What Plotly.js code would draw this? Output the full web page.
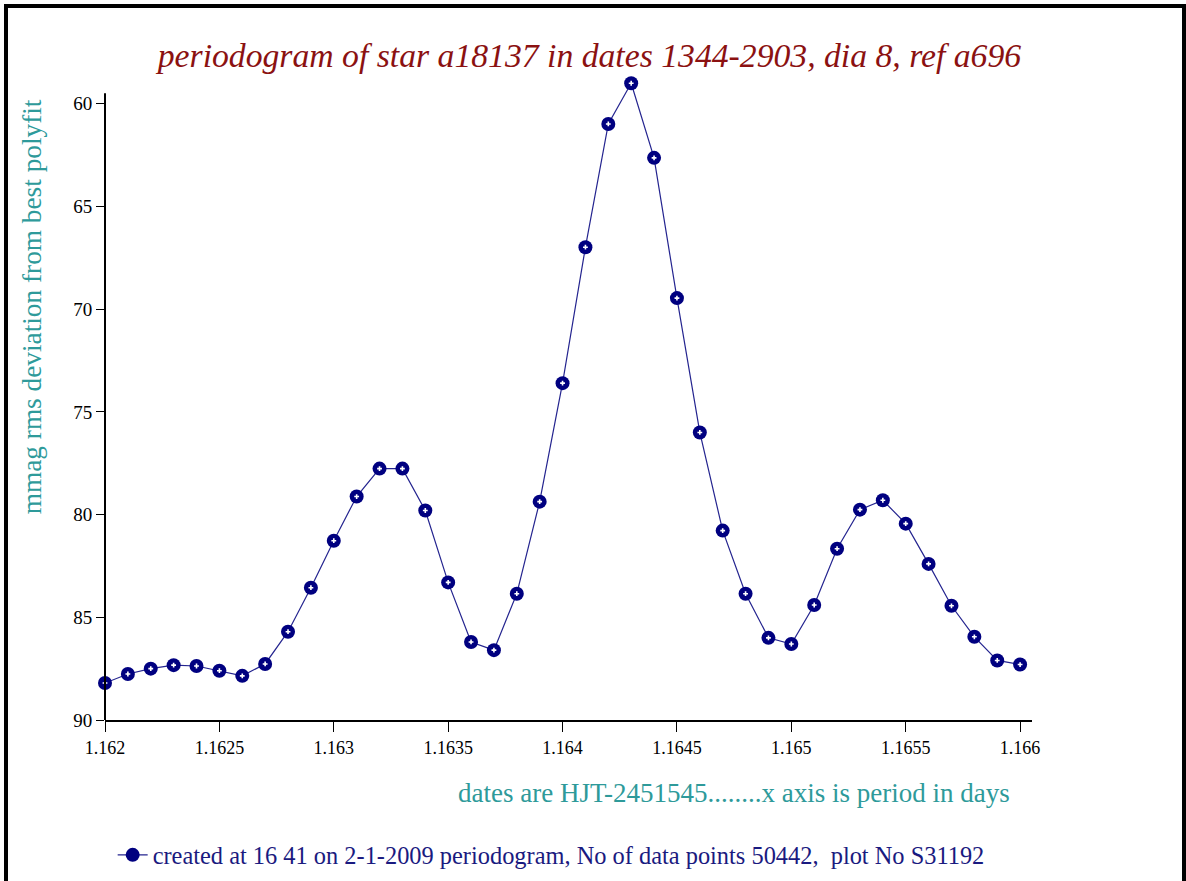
<!DOCTYPE html>
<html>
<head>
<meta charset="utf-8">
<script src="https://cdn.plot.ly/plotly-3.0.1.min.js"></script>
<style>
  html, body { margin: 0; padding: 0; background: #ffffff; }
  #wrap { position: relative; width: 1186px; height: 881px; overflow: hidden; }
  #chart { width: 1186px; height: 881px; }
  #frame { position: absolute; left: 4px; top: 4px; width: 1174px; height: 900px;
           border-left: 4px solid #000; border-top: 4px solid #000; border-right: 4px solid #000;
           pointer-events: none; }
</style>
</head>
<body>
<div id="wrap">
  <div id="chart"></div>
  <div id="frame"></div>
</div>
<script>
// period in days (x axis)
const periods = [
  1.1620, 1.1621, 1.1622, 1.1623, 1.1624, 1.1625, 1.1626, 1.1627, 1.1628, 1.1629,
  1.1630, 1.1631, 1.1632, 1.1633, 1.1634, 1.1635, 1.1636, 1.1637, 1.1638, 1.1639,
  1.1640, 1.1641, 1.1642, 1.1643, 1.1644, 1.1645, 1.1646, 1.1647, 1.1648, 1.1649,
  1.1650, 1.1651, 1.1652, 1.1653, 1.1654, 1.1655, 1.1656, 1.1657, 1.1658, 1.1659,
  1.1660
];
// mmag rms deviation from best polyfit
const rmsDeviation = [
  88.2, 87.76, 87.5, 87.33, 87.37, 87.6, 87.85, 87.27, 85.7, 83.56,
  81.27, 79.12, 77.76, 77.76, 79.8, 83.3, 86.2, 86.6, 83.85, 79.37,
  73.6, 66.98, 60.98, 59.0, 62.63, 69.46, 76.0, 80.78, 83.85, 86.0,
  86.3, 84.4, 81.66, 79.76, 79.3, 80.44, 82.4, 84.44, 85.95, 87.1,
  87.3
];
const xTickVals = [1.162, 1.1625, 1.163, 1.1635, 1.164, 1.1645, 1.165, 1.1655, 1.166];
const xTickText = ["1.162", "1.1625", "1.163", "1.1635", "1.164", "1.1645", "1.165", "1.1655", "1.166"];
const yTickVals = [60, 65, 70, 75, 80, 85, 90];

const titleText = "periodogram of star a18137 in dates 1344-2903, dia 8, ref a696";
const yTitleText = "mmag rms deviation from best polyfit";
const xTitleText = "dates are HJT-2451545........x axis is period in days";
const seriesName = "created at 16 41 on 2-1-2009 periodogram, No of data points 50442,  plot No S31192";

const serif = "Liberation Serif, Times New Roman, serif";

const traces = [
  {
    x: periods, y: rmsDeviation, type: "scatter", mode: "lines+markers",
    name: seriesName,
    line: { color: "#24248f", width: 1.2 },
    marker: { color: "#000080", size: 14, symbol: "circle" },
    cliponaxis: false
  },
  {
    x: periods, y: rmsDeviation, type: "scatter", mode: "markers",
    showlegend: false, hoverinfo: "skip",
    marker: { color: "#ffffff", size: 4, symbol: "cross" },
    cliponaxis: false
  }
];

const layout = {
  width: 1186, height: 881,
  paper_bgcolor: "#ffffff", plot_bgcolor: "#ffffff",
  margin: { l: 105, r: 154, t: 73, b: 161, autoexpand: false },
  font: { family: serif, color: "#000000", size: 18 },
  title: {
    text: titleText,
    font: { family: serif, size: 33.7, color: "#8b1111", style: "italic" },
    xref: "container", yref: "container", x: 0.497, y: 0.9376,
    xanchor: "center", yanchor: "middle"
  },
  xaxis: {
    range: [1.162, 1.166052],
    tickmode: "array", tickvals: xTickVals, ticktext: xTickText,
    showgrid: false, zeroline: false, automargin: false,
    showline: true, linecolor: "#000000", linewidth: 2,
    ticks: "outside", ticklen: 10, tickwidth: 1, tickcolor: "#000000",
    tickfont: { family: serif, size: 18, color: "#000000" }
  },
  yaxis: {
    range: [90, 58.5],
    tickmode: "array", tickvals: yTickVals,
    showgrid: false, zeroline: false, automargin: false,
    showline: false,
    ticks: "outside", ticklen: 8, tickwidth: 1, tickcolor: "#000000",
    tickfont: { family: serif, size: 19, color: "#000000" }
  },
  shapes: [
    {
      type: "line", xref: "paper", yref: "y",
      x0: 0, x1: 0, y0: 59.49, y1: 90.5,
      line: { color: "#000000", width: 2 }, layer: "above"
    }
  ],
  annotations: [
    {
      text: yTitleText, xref: "paper", yref: "paper",
      x: -0.0787, y: 0.638, xanchor: "center", yanchor: "middle",
      textangle: -90, showarrow: false,
      font: { family: serif, size: 27.3, color: "#2e9a9a" }
    },
    {
      text: xTitleText, xref: "paper", yref: "paper",
      x: 0.978, y: -0.1128, xanchor: "right", yanchor: "middle",
      showarrow: false,
      font: { family: serif, size: 27, color: "#2e9a9a" }
    }
  ],
  showlegend: true,
  legend: {
    orientation: "h", xref: "container", yref: "container",
    x: 0.095, y: 0.0295, xanchor: "left", yanchor: "middle",
    font: { family: serif, size: 24.4, color: "#1a1a80" },
    bgcolor: "rgba(0,0,0,0)"
  }
};

Plotly.newPlot("chart", traces, layout, { displayModeBar: false, staticPlot: true });
</script>
</body>
</html>
